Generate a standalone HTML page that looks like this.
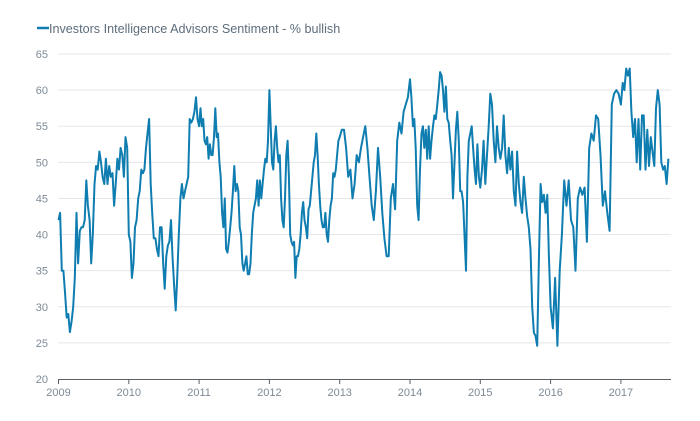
<!DOCTYPE html>
<html><head><meta charset="utf-8"><style>
html,body{margin:0;padding:0;background:#fff;}
svg{display:block;font-family:"Liberation Sans",sans-serif;}
</style></head><body>
<svg id="chart" width="700" height="421" viewBox="0 0 700 421">
<g>
<line x1="37" y1="28" x2="49" y2="28" stroke="#0f7db0" stroke-width="2.5"/>
<text x="49" y="33" font-size="12.6" fill="#5d6d7c">Investors Intelligence Advisors Sentiment - % bullish</text>
</g>
<g id="grid"></g>
<g id="yaxis"></g>
<g id="xaxis"></g>
<g id="series"></g>
</svg>
<script>
const yTicks=[20,25,30,35,40,45,50,55,60,65];
const xTicks=[2009,2010,2011,2012,2013,2014,2015,2016,2017];
const years=[2009,2010,2011,2012,2013,2014,2015,2016,2017];
const yearSpan=[1,1,1,1,1,1,1,1,0.7];
const v2009=[42,43,35,35,32,28.5,29,26.5,28,30,34,43,36,40.5,41,41,42,47.5,44,42,36,40,47,49.5,49,51.5,50,48,47,50.5,47,49.5,48,48.5,44,47,50.5,49,52,51,48,53.5,52];
const v2010=[40,39,34,36,41,42,45,46,49,48.5,49,52,54,56,47,43,39.5,39.5,38,37,41,41,36,32.5,37,38.5,39,42,37,33,29.5,34,40,45,47,45,46,47,48,56,55.5,56,57,59,56];
const v2011=[55,57.5,55,56,53,52.5,53.5,50.5,52.5,51,51,53.5,57.5,53.5,54,50,48,43,41,45,38,37.5,39,41,43,46,49.5,46,47,46,41,40,36,35,36,37,34.5,34.5,36,40,43,44,45,47.5,44,47.5,45,47,49,50.5,50,53];
const v2012=[60,55,50,49,53,55,52,50,51,45,42,41,45,51,53,48,40,39,38.5,39,34,37,37,38,40,43,44.5,42,41,39.5,43.5,44,46,48,50,51,54,51,47,44,42,41,41,43,40,39,42,44,45,48.5,48,49,51,53];
const v2013=[53.5,54.5,54.5,52,48,49,45,47,51,50,52,53.5,55,52,48,44,42,46,52,48,43,39.5,37,37,45,47,43.5,53,55.5,54,57,58,59];
const v2014=[61.5,59,55,56,52,44,42,49,54,55,52,54.5,50.5,55,50.5,53,55,56.5,56,58,60,62.5,62,60,57,60.5,56,55.5,53,51,45,50,54.5,57,53,46,46,44.5,40,35,48,53,54,55,52,49,47,52.5,48];
const v2015=[46.5,49,53,47,51,55,59.5,58,53,50,55,52,50.5,52,56.5,51,48.5,52,49,51.5,46,44,51.5,47,44.5,43,48,45,42.5,41,38,30,26.4,26,24.6,36.5,47,44.5,45.5,43,45.5,37];
const v2016=[30,27,34,24.6,35,40,47.5,44,47.5,42,41,35,45,46.5,45.5,46.5,39,52,54,53,56.5,56,51,44,46,43,40.5,58,59.5,60,59.5];
const v2017=[58,61,60,63,62,63,57,53.5,56,50,56,49,56.5,56.5,49,54.5,49.5,53.5,51.5,49.5,57.5,60,58,50,49,49.5,47,50.5];
const yearValues=[v2009,v2010,v2011,v2012,v2013,v2014,v2015,v2016,v2017];

const NS="http://www.w3.org/2000/svg";
const X0=58.5,PXY=70.3,Y0=379,PXV=7.222;
function xScale(d){return X0+(d-2009)*PXY;}
function yScale(v){return Y0-(v-20)*PXV;}
const grid=document.getElementById('grid'),ya=document.getElementById('yaxis'),xa=document.getElementById('xaxis'),ser=document.getElementById('series');
yTicks.forEach(t=>{
  if(t>20){const l=document.createElementNS(NS,'line');
  l.setAttribute('x1',58);l.setAttribute('x2',671);l.setAttribute('y1',yScale(t));l.setAttribute('y2',yScale(t));
  l.setAttribute('stroke','#e6e7e9');l.setAttribute('stroke-width','1');
  
  
  grid.appendChild(l);}
  const tx=document.createElementNS(NS,'text');
  tx.setAttribute('x',48);tx.setAttribute('y',yScale(t)+4);tx.setAttribute('text-anchor','end');
  tx.setAttribute('font-size','11');tx.setAttribute('fill','#7d8a96');tx.textContent=t;
  
  
  ya.appendChild(tx);
});
const ax=document.createElementNS(NS,'line');
ax.setAttribute('x1',58);ax.setAttribute('x2',671);ax.setAttribute('y1',Y0+0.5);ax.setAttribute('y2',Y0+0.5);
ax.setAttribute('stroke','#5a5f66');ax.setAttribute('stroke-width','1');


xa.appendChild(ax);
xTicks.forEach(t=>{
  const l=document.createElementNS(NS,'line');
  l.setAttribute('x1',xScale(t));l.setAttribute('x2',xScale(t));l.setAttribute('y1',Y0);l.setAttribute('y2',Y0+5);
  l.setAttribute('stroke','#5a5f66');
  
  
  xa.appendChild(l);
  const tx=document.createElementNS(NS,'text');
  tx.setAttribute('x',xScale(t));tx.setAttribute('y',396);tx.setAttribute('text-anchor','middle');
  tx.setAttribute('font-size','11');tx.setAttribute('fill','#7d8a96');tx.textContent=t;
  
  
  xa.appendChild(tx);
});
let pts=[];
years.forEach((yr,i)=>{const arr=yearValues[i];arr.forEach((v,j)=>{const d=yr+j/arr.length*yearSpan[i];pts.push(xScale(d).toFixed(1)+','+yScale(v).toFixed(1));});});
const pl=document.createElementNS(NS,'polyline');
pl.setAttribute('points',pts.join(' '));pl.setAttribute('fill','none');pl.setAttribute('stroke','#0f7db0');
pl.setAttribute('stroke-width','2');pl.setAttribute('stroke-linejoin','round');


ser.appendChild(pl);
</script>
</body></html>
